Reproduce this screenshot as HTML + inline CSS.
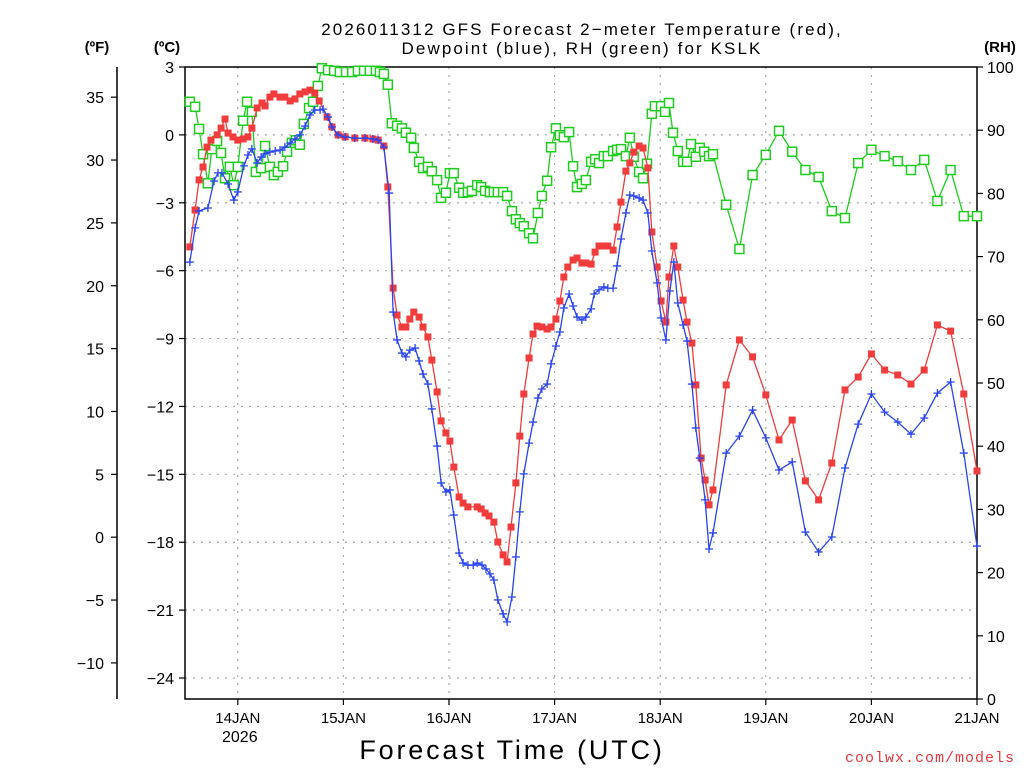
<!DOCTYPE html>
<html><head><meta charset="utf-8"><style>
html,body{margin:0;padding:0;background:#fff;}
svg{display:block;font-family:"Liberation Sans",sans-serif;}
</style></head><body>
<svg id="chart" width="1024" height="768" viewBox="0 0 1024 768" xmlns="http://www.w3.org/2000/svg">
<rect x="0" y="0" width="1024" height="768" fill="#fff"/>
<g id="grid"></g>
<g id="axes"></g>
<g id="series"></g>
<text x="582" y="35" text-anchor="middle" font-size="17" letter-spacing="2.1">2026011312 GFS Forecast 2−meter Temperature (red),</text>
<text x="582" y="54" text-anchor="middle" font-size="17" letter-spacing="2.1">Dewpoint (blue), RH (green) for KSLK</text>
<text x="97" y="52" text-anchor="middle" font-size="15" font-weight="bold">(ºF)</text>
<text x="167" y="52" text-anchor="middle" font-size="15" font-weight="bold">(ºC)</text>
<text x="1000" y="52" text-anchor="middle" font-size="15" font-weight="bold">(RH)</text>
<text x="512" y="759" text-anchor="middle" font-size="27" letter-spacing="2.8">Forecast Time (UTC)</text>
<text x="1015" y="762" text-anchor="end" font-size="15" fill="#e8383c" font-family="Liberation Mono, monospace" letter-spacing="1">coolwx.com/models</text>
</svg>
<script>
const dayLabels = ["14JAN","15JAN","16JAN","17JAN","18JAN","19JAN","20JAN","21JAN"];
const dayHours = [12,36,60,84,108,132,156,180];
const cTicks = [3,0,-3,-6,-9,-12,-15,-18,-21,-24];
const fTicks = [35,30,25,20,15,10,5,0,-5,-10];
const rhTicks = [100,90,80,70,60,50,40,30,20,10,0];

const tempHours = [1.1,2.3,3.2,4.1,5.0,5.9,7.3,8.2,9.1,9.8,10.9,12.0,13.2,14.3,15.2,16.4,17.5,18.2,19.3,20.2,21.6,22.7,23.9,25.0,26.1,27.3,28.4,29.5,30.5,32.3,33.4,34.8,36.4,38.6,40.9,42.7,43.9,45.2,46.1,47.3,48.2,49.3,50.2,51.1,52.0,53.2,54.1,55.2,56.1,57.3,58.2,59.3,60.2,61.1,62.3,63.2,64.3,66.4,67.3,68.2,69.1,70.2,71.1,72.3,73.2,74.1,75.2,76.1,77.0,78.2,79.1,80.0,81.1,82.3,83.2,84.3,85.2,86.1,87.0,88.2,89.1,90.2,91.1,92.3,93.2,94.1,95.2,96.1,97.3,98.2,99.1,100.2,101.1,102.0,103.2,104.1,105.2,106.1,107.3,108.2,109.3,110.0,111.1,112.0,113.2,114.1,115.2,116.1,117.3,118.2,119.1,120,123,126,129,132,135,138,141,144,147,150,153,156,159,162,165,168,171,174,177,180];
const tempC = [-4.95,-3.32,-1.99,-1.42,-0.54,-0.23,0.0,0.30,0.70,0.08,-0.09,-0.23,-0.18,-0.09,0.30,1.19,1.41,1.28,1.67,1.81,1.67,1.67,1.50,1.59,1.81,1.90,1.98,1.85,1.50,0.79,0.35,0.0,-0.09,-0.14,-0.14,-0.18,-0.23,-0.49,-2.30,-6.77,-7.96,-8.49,-8.49,-8.14,-7.83,-8.05,-8.49,-8.93,-9.95,-11.36,-12.64,-13.17,-13.53,-14.68,-16.00,-16.27,-16.44,-16.44,-16.53,-16.71,-16.84,-17.11,-17.99,-18.56,-18.87,-17.33,-15.38,-13.31,-11.45,-9.86,-8.80,-8.45,-8.49,-8.58,-8.49,-8.14,-7.34,-6.28,-5.84,-5.53,-5.44,-5.66,-5.66,-5.71,-5.18,-4.91,-4.91,-4.91,-5.09,-4.07,-2.97,-1.60,-1.24,-0.76,-0.49,-0.58,-1.46,-4.29,-5.84,-7.34,-8.27,-6.28,-4.91,-5.84,-7.30,-8.27,-9.20,-11.05,-14.28,-15.25,-16.35,-15.69,-11.05,-9.06,-9.81,-11.49,-13.48,-12.60,-15.29,-16.13,-14.50,-11.27,-10.70,-9.68,-10.39,-10.61,-11.01,-10.39,-8.40,-8.67,-11.45,-14.85];

const dewHours = [1.1,2.3,3.2,5.2,6.6,7.5,8.4,9.8,11.1,12.0,13.4,14.3,15.2,16.4,17.3,18.2,19.3,20.5,21.6,22.7,23.9,25.0,26.1,27.3,28.4,29.5,30.7,31.4,32.5,33.4,34.8,36.4,38.6,40.9,42.7,43.9,45.2,46.4,47.3,48.2,49.3,50.2,51.1,52.3,53.2,54.1,55.2,56.1,57.3,58.2,59.3,60.2,61.1,62.3,63.2,64.3,65.5,66.4,67.5,68.4,69.3,70.2,71.1,72.3,73.2,74.3,75.2,76.1,77.0,78.2,79.1,80.2,81.1,82.3,83.2,84.3,85.2,86.1,87.3,88.2,89.1,90.2,91.1,92.3,93.0,94.1,95.2,96.1,97.3,98.2,99.1,100.2,101.1,102.0,103.2,104.1,105.2,106.1,107.3,108.2,109.3,110.2,111.1,112.0,113.2,114.1,115.2,116.1,117.0,118.2,119.1,120,123,126,129,132,135,138,141,144,147,150,153,156,159,162,165,168,171,174,177,180];
const dewC = [-5.62,-4.11,-3.36,-3.23,-2.04,-1.68,-1.68,-2.17,-2.88,-2.52,-1.37,-0.89,-0.62,-1.24,-0.98,-0.84,-0.76,-0.71,-0.67,-0.54,-0.36,-0.18,0.0,0.39,0.88,1.10,1.10,1.14,0.79,0.35,0.0,-0.09,-0.14,-0.14,-0.18,-0.23,-0.54,-2.57,-7.83,-9.06,-9.64,-9.81,-9.51,-9.42,-9.99,-10.57,-11.01,-12.11,-13.75,-15.38,-15.78,-15.69,-16.80,-18.48,-18.92,-19.01,-19.01,-18.92,-19.01,-19.18,-19.40,-19.67,-20.55,-21.17,-21.52,-20.42,-18.65,-16.66,-14.98,-13.62,-12.69,-11.63,-11.23,-11.01,-10.12,-9.33,-8.71,-7.65,-7.03,-7.56,-8.05,-8.18,-8.05,-7.69,-7.03,-6.85,-6.72,-6.77,-6.77,-5.79,-4.60,-3.45,-2.66,-2.70,-2.79,-2.88,-3.45,-5.13,-6.54,-8.09,-9.06,-6.90,-5.62,-7.43,-8.40,-9.11,-11.01,-12.95,-14.28,-16.13,-18.30,-17.59,-14.06,-13.31,-12.16,-13.39,-14.81,-14.45,-17.55,-18.43,-17.77,-14.72,-12.78,-11.45,-12.25,-12.69,-13.22,-12.51,-11.41,-10.92,-14.06,-18.17];

const rhHours = [1.1,2.3,3.2,4.1,5.2,6.1,7.3,8.2,9.1,10.2,11.1,12.0,13.2,14.1,15.2,16.1,17.3,18.2,19.3,20.2,21.1,22.3,23.2,24.3,25.2,26.1,27.0,28.2,29.1,30.2,31.1,32.5,33.9,35.2,36.6,38.0,39.3,40.7,42.0,43.4,44.3,45.2,46.1,47.0,48.2,49.3,50.2,51.4,52.0,53.2,54.1,55.2,56.1,57.3,58.2,59.3,60.2,61.1,62.3,63.2,64.3,65.2,66.4,67.3,68.2,69.3,70.2,71.1,72.3,73.2,74.3,75.2,76.1,77.0,78.2,79.1,80.2,81.1,82.3,83.2,84.3,85.2,86.1,87.3,88.2,89.1,90.2,91.1,92.3,93.2,94.1,95.2,96.1,97.3,98.2,99.1,100.2,101.1,102.0,103.2,104.1,105.0,106.1,106.8,108.2,109.1,110.0,110.9,112.0,113.2,114.1,115.0,116.1,117.0,118.0,119.1,120,123,126,129,132,135,138,141,144,147,150,153,156,159,162,165,168,171,174,177,180];
const rhVals = [94.5,93.7,90.2,86.2,81.6,87.0,88.3,86.4,82.4,84.2,81.3,84.2,91.5,94.5,92.9,83.4,84.0,87.5,84.2,82.9,83.4,84.3,86.6,88.0,88.4,87.7,91.0,93.5,94.5,97.0,99.8,99.5,99.4,99.2,99.2,99.2,99.4,99.4,99.4,99.4,99.2,98.9,97.2,91.1,90.7,90.3,89.6,88.8,87.2,85.0,84.0,84.2,83.5,82.1,79.3,80.1,83.2,83.2,80.9,80.1,80.2,80.4,81.3,81.0,80.4,80.2,80.2,80.2,80.2,79.6,77.2,75.9,75.3,74.8,73.7,72.9,76.9,79.6,82.0,87.3,90.3,89.2,88.9,89.7,84.3,81.0,81.5,82.1,85.0,85.4,84.8,85.9,85.9,86.7,86.9,87.0,85.9,88.8,85.8,83.4,82.4,84.7,92.6,93.8,93.8,92.9,94.3,89.6,86.7,85.0,85.0,87.8,85.8,87.2,86.6,85.9,86.2,78.2,71.2,82.9,86.1,89.9,86.6,83.7,82.6,77.2,76.1,84.8,86.9,85.9,85.1,83.7,85.3,78.8,83.7,76.4,76.4];

const NS = "http://www.w3.org/2000/svg";
const X0 = 185, X1 = 977, Y0 = 67, Y1 = 699;
const xScale = h => X0 + (h / 180) * (X1 - X0);
const yC = c => Y0 + (3 - c) * (678 - 67) / 27;
const yF = f => yC((f - 32) * 5 / 9);
const yRH = r => Y1 - r * (Y1 - Y0) / 100;

function mk(tag, attrs, parent) {
  const e = document.createElementNS(NS, tag);
  for (const k in attrs) e.setAttribute(k, attrs[k]);
  parent.appendChild(e);
  return e;
}
const grid = document.getElementById('grid');
const axes = document.getElementById('axes');
const series = document.getElementById('series');

cTicks.forEach(c => {
  const y = yC(c);
  if (y > Y0 + 1 && y < Y1 - 1) {
    const l = mk('line', {x1: X0, x2: X1, y1: y, y2: y, stroke: '#aaa', 'stroke-width': 1.2, 'stroke-dasharray': '2,6'}, grid);
    
    
  }
});
dayHours.forEach(h => {
  const x = xScale(h);
  if (x < X1 - 1) {
    const l = mk('line', {x1: x, x2: x, y1: Y0, y2: Y1, stroke: '#aaa', 'stroke-width': 1.2, 'stroke-dasharray': '2,6'}, grid);
    
    
  }
});

const frame = mk('rect', {x: X0, y: Y0, width: X1 - X0, height: Y1 - Y0, fill: 'none', stroke: '#000', 'stroke-width': 1.5}, axes);


const fAxis = mk('line', {x1: 117, x2: 117, y1: Y0, y2: Y1, stroke: '#000', 'stroke-width': 1.5}, axes);



cTicks.forEach(c => {
  const y = yC(c);
  mk('line', {x1: X0 - 6, x2: X0, y1: y, y2: y, stroke: '#000', 'stroke-width': 1.2}, axes);
  const t = mk('text', {x: 174, y: y + 6, 'text-anchor': 'end', 'font-size': 16}, axes);
  t.textContent = (c < 0 ? '−' + Math.abs(c) : '' + c);
  
  
});
fTicks.forEach(f => {
  const y = yF(f);
  mk('line', {x1: 111, x2: 117, y1: y, y2: y, stroke: '#000', 'stroke-width': 1.2}, axes);
  const t = mk('text', {x: 104, y: y + 6, 'text-anchor': 'end', 'font-size': 16}, axes);
  t.textContent = (f < 0 ? '−' + Math.abs(f) : '' + f);
  
  
});
rhTicks.forEach(r => {
  const y = yRH(r);
  mk('line', {x1: X1, x2: X1 + 6, y1: y, y2: y, stroke: '#000', 'stroke-width': 1.2}, axes);
  const t = mk('text', {x: 987, y: y + 6, 'text-anchor': 'start', 'font-size': 16}, axes);
  t.textContent = '' + r;
  
  
});
dayHours.forEach((h, i) => {
  const x = xScale(h);
  mk('line', {x1: x, x2: x, y1: Y1, y2: Y1 + 6, stroke: '#000', 'stroke-width': 1.2}, axes);
  const t = mk('text', {x: x, y: Y1 + 24, 'text-anchor': 'middle', 'font-size': 15}, axes);
  t.textContent = dayLabels[i];
  
  
});
const yr = mk('text', {x: xScale(dayHours[0]) + 2, y: Y1 + 43, 'text-anchor': 'middle', 'font-size': 16}, axes);
yr.textContent = '2026';



function line(hours, vals, yfn, color, name) {
  const pts = hours.map((h, i) => xScale(h).toFixed(1) + ',' + yfn(vals[i]).toFixed(1)).join(' ');
  const p = mk('polyline', {points: pts, fill: 'none', stroke: color, 'stroke-width': 1.3}, series);
  
  
}
line(rhHours, rhVals, yRH, '#1fcc1f', 'rh-line');
rhHours.forEach((h, i) => {
  const m = mk('rect', {x: xScale(h) - 4.5, y: yRH(rhVals[i]) - 4.5, width: 9, height: 9, fill: '#fff', stroke: '#1fcc1f', 'stroke-width': 1.5}, series);
  
  
});
line(tempHours, tempC, yC, '#f03c3c', 'temperature-line');
tempHours.forEach((h, i) => {
  const m = mk('rect', {x: xScale(h) - 3.5, y: yC(tempC[i]) - 3.5, width: 7, height: 7, fill: '#f03c3c'}, series);
  
  
});
line(dewHours, dewC, yC, '#2a44f0', 'dewpoint-line');
dewHours.forEach((h, i) => {
  const x = xScale(h), y = yC(dewC[i]);
  const m = mk('path', {d: `M${x-4},${y}H${x+4}M${x},${y-4}V${y+4}`, stroke: '#2a44f0', 'stroke-width': 1.3, fill: 'none'}, series);
  
  
});
</script>
</body></html>
